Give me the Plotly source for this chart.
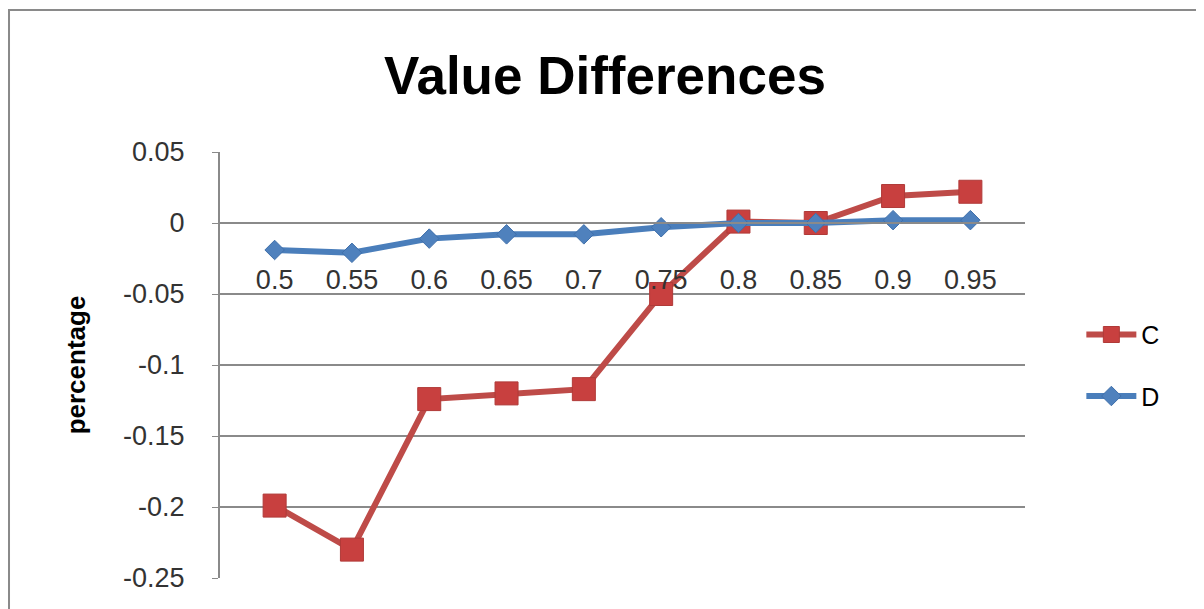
import plotly.graph_objects as go

# Data
categories = ["0.5", "0.55", "0.6", "0.65", "0.7", "0.75", "0.8", "0.85", "0.9", "0.95"]
series_c = [-0.199, -0.230, -0.124, -0.120, -0.117, -0.050, 0.001, 0.0, 0.019, 0.022]
series_d = [-0.019, -0.021, -0.011, -0.008, -0.008, -0.003, 0.0, 0.0, 0.002, 0.002]
y_ticks = [0.05, 0, -0.05, -0.1, -0.15, -0.2, -0.25]
y_tick_text = ["0.05", "0", "-0.05", "-0.1", "-0.15", "-0.2", "-0.25"]

font = "Liberation Sans, Arial, sans-serif"
grid = "#8a8a8a"

fig = go.Figure()

fig.add_trace(go.Scatter(
    x=categories, y=series_c, name="C", mode="lines+markers",
    legendgroup="c",
    line=dict(color="#BE4B48", width=6),
    marker=dict(symbol="square", size=23, color="#C8403F",
                line=dict(color="#B03A38", width=1)),
))
fig.add_trace(go.Scatter(
    x=categories, y=series_d, name="D", mode="lines+markers",
    legendgroup="d",
    line=dict(color="#4A7EBB", width=6),
    marker=dict(symbol="diamond", size=15, color="#4F81BD",
                line=dict(color="#3F6FAA", width=1)),
))

# the page body has an 8px margin, so everything is shifted up/left by 8px
fig.update_layout(
    width=1204, height=609,
    margin=dict(l=212, r=187, t=144, b=39),
    paper_bgcolor="white", plot_bgcolor="white",
    font=dict(family=font, size=27, color="#222"),
    title=dict(text="<b>Value Differences</b>", x=0.4958, xanchor="center",
               y=1 - 67 / 609, yanchor="middle", yref="container",
               font=dict(family=font, size=53, color="black")),
    legend=dict(x=1.07, y=0.625, xanchor="left", yanchor="top",
                font=dict(size=25, color="black"), tracegroupgap=26,
                itemwidth=50, bgcolor="rgba(0,0,0,0)"),
    showlegend=True,
    shapes=[dict(type="rect", xref="paper", yref="paper",
                 x0=-0.2621, x1=1.2199, y0=-0.1, y1=1.3333,
                 line=dict(color="#8a8a8a", width=2), layer="below")],
)

fig.update_xaxes(
    type="category", anchor="free", position=0.25 / 0.30,
    showline=True, linecolor=grid, linewidth=2,
    showgrid=False, ticks="", ticklabelstandoff=33,
    tickfont=dict(size=27, color="#333"),
)
fig.update_yaxes(
    range=[-0.25, 0.05], tickvals=y_ticks, ticktext=y_tick_text,
    showgrid=True, gridcolor=grid, gridwidth=2, zeroline=False,
    showline=True, linecolor=grid, linewidth=2,
    ticks="outside", ticklen=6, tickcolor=grid, ticklabelstandoff=22,
    tickfont=dict(size=27, color="#333"),
    title=dict(text="<b>percentage</b>", standoff=30,
               font=dict(size=26, color="black")),
)

fig.write_html("out.html")
